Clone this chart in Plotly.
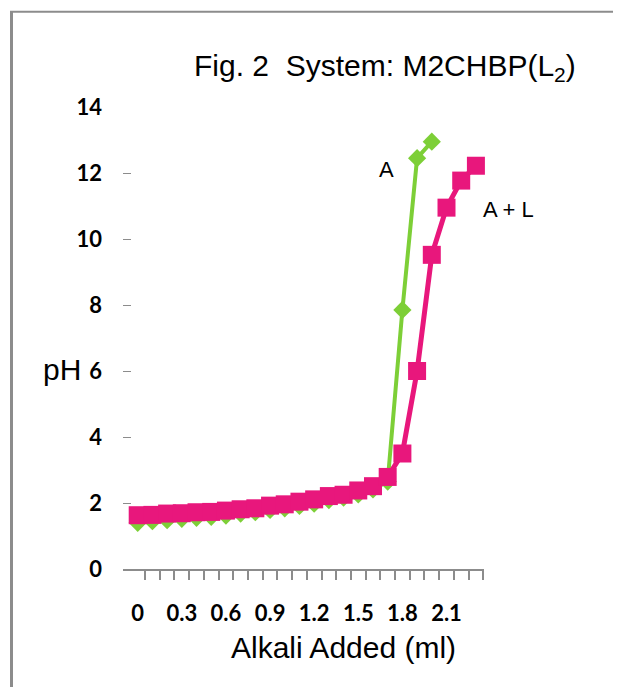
import plotly.graph_objects as go

# Data (pH vs alkali added, ml)
alkali = [0.0, 0.1, 0.2, 0.3, 0.4, 0.5, 0.6, 0.7, 0.8, 0.9, 1.0, 1.1,
          1.2, 1.3, 1.4, 1.5, 1.6, 1.7, 1.8, 1.9, 2.0, 2.1, 2.2, 2.3]
ph_A = [1.40, 1.45, 1.48, 1.52, 1.55, 1.58, 1.62, 1.68, 1.72, 1.79, 1.84, 1.91,
        1.98, 2.09, 2.16, 2.26, 2.41, 2.65, 7.85, 12.45, 12.95]
ph_AL = [1.63, 1.64, 1.68, 1.69, 1.72, 1.73, 1.77, 1.81, 1.84, 1.92, 1.96, 2.04,
         2.11, 2.21, 2.25, 2.38, 2.51, 2.79, 3.50, 6.00, 9.52, 10.95, 11.77, 12.22]
x_tick_vals = [0.0, 0.3, 0.6, 0.9, 1.2, 1.5, 1.8, 2.1]
x_tick_text = ["<b>0</b>", "<b>0.3</b>", "<b>0.6</b>", "<b>0.9</b>",
               "<b>1.2</b>", "<b>1.5</b>", "<b>1.8</b>", "<b>2.1</b>"]
x_minor_ticks = [round(0.05 + 0.1 * k, 2) for k in range(24)]
y_tick_vals = [0, 2, 4, 6, 8, 10, 12, 14]
y_tick_text = ["<b>0</b>", "<b>2</b>", "<b>4</b>", "<b>6</b>",
               "<b>8</b>", "<b>10</b>", "<b>12</b>", "<b>14</b>"]

GREEN = "#7DCF37"
PINK = "#E8177C"
GRAY = "#8C8C8C"

fig = go.Figure()
fig.add_trace(go.Scatter(
    x=alkali[:len(ph_A)], y=ph_A, mode="lines+markers", name="A",
    line=dict(color=GREEN, width=4),
    marker=dict(symbol="diamond", size=14, color=GREEN),
    cliponaxis=False,
))
fig.add_trace(go.Scatter(
    x=alkali[:len(ph_AL)], y=ph_AL, mode="lines+markers", name="A + L",
    line=dict(color=PINK, width=5),
    marker=dict(symbol="square", size=18, color=PINK),
    cliponaxis=False,
))

TICKFONT = dict(family="Lato", size=22, color="black")

fig.update_layout(
    width=617, height=687,
    margin=dict(l=123, r=133, t=107, b=118),
    paper_bgcolor="white", plot_bgcolor="white",
    showlegend=False,
    font=dict(family="Liberation Sans, Arial, sans-serif", color="black"),
)
fig.update_xaxes(
    range=[-0.1, 2.355], showgrid=False, zeroline=False,
    showline=True, linecolor=GRAY, linewidth=2,
    tickmode="array", tickvals=x_tick_vals, ticktext=x_tick_text,
    ticks="", ticklabelstandoff=24,
    tickfont=TICKFONT,
    minor=dict(tickmode="array", tickvals=x_minor_ticks, ticks="outside",
               ticklen=9, tickcolor=GRAY, tickwidth=2, showgrid=False),
)
fig.update_yaxes(
    range=[0, 14], showgrid=False, zeroline=False, showline=False,
    tickmode="array", tickvals=y_tick_vals, ticktext=y_tick_text,
    ticks="inside", ticklen=8, tickcolor=GRAY, tickwidth=1,
    ticklabelstandoff=20,
    tickfont=TICKFONT,
)

# Texts
fig.add_annotation(text="Fig. 2  System: M2CHBP(L<sub>2</sub>)", xref="paper", yref="paper",
                   x=(385 - 123) / 361, y=1 + (107 - 68) / 462.0,
                   showarrow=False, font=dict(size=30), xanchor="center", yanchor="middle")
fig.add_annotation(text="pH", xref="paper", yref="paper",
                   x=(62 - 123) / 361, y=(569.3 - 370) / 462.0,
                   showarrow=False, font=dict(size=30), xanchor="center", yanchor="middle")
fig.add_annotation(text="Alkali Added (ml)", xref="paper", yref="paper",
                   x=(343 - 123) / 361, y=-(648 - 569.3) / 462.0,
                   showarrow=False, font=dict(size=30), xanchor="center", yanchor="middle")
fig.add_annotation(text="A", xref="paper", yref="paper",
                   x=(386 - 123) / 361, y=(569.3 - 170) / 462.0,
                   showarrow=False, font=dict(size=22), xanchor="center", yanchor="middle")
fig.add_annotation(text="A + L", xref="paper", yref="paper",
                   x=(508 - 123) / 361, y=(569.3 - 210) / 462.0,
                   showarrow=False, font=dict(size=22), xanchor="center", yanchor="middle")

# Frame border (left and top)
fig.add_shape(type="line", xref="paper", yref="paper",
              x0=(11.5 - 123) / 361, x1=(11.5 - 123) / 361,
              y0=(569.3 - 12) / 462.0, y1=(569.3 - 690) / 462.0,
              line=dict(color=GRAY, width=3))
fig.add_shape(type="line", xref="paper", yref="paper",
              x0=(10 - 123) / 361, x1=(613 - 123) / 361,
              y0=(569.3 - 12) / 462.0, y1=(569.3 - 12) / 462.0,
              line=dict(color=GRAY, width=2))

fig.write_html("out.html")
